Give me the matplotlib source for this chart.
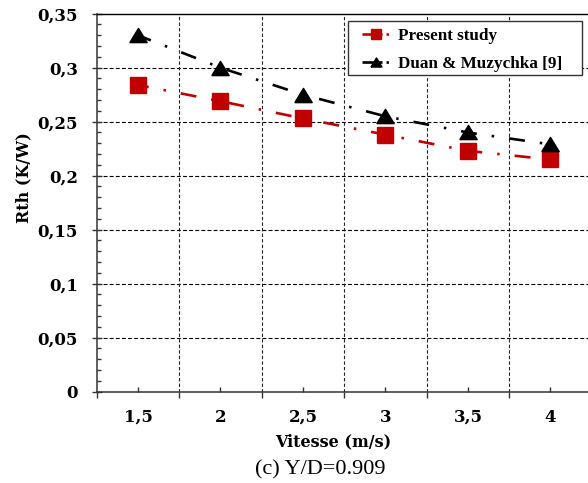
import matplotlib
matplotlib.use("Agg")
import matplotlib.pyplot as plt
from matplotlib.ticker import FixedLocator, MultipleLocator, NullFormatter
from matplotlib.lines import Line2D
from matplotlib.patches import Rectangle

# Thermal resistance vs. air velocity
velocity = [1.5, 2.0, 2.5, 3.0, 3.5, 4.0]
velocity_labels = ["1,5", "2", "2,5", "3", "3,5", "4"]
rth_present = [0.284, 0.269, 0.253, 0.238, 0.223, 0.215]
rth_duan = [0.330, 0.300, 0.275, 0.255, 0.240, 0.229]
y_ticks = [0.0, 0.05, 0.10, 0.15, 0.20, 0.25, 0.30, 0.35]
y_tick_labels = ["0", "0,05", "0,1", "0,15", "0,2", "0,25", "0,3", "0,35"]
series_names = ["Present study", "Duan & Muzychka [9]"]

W, H = 588, 483
DPI = 100
fig = plt.figure(figsize=(W / DPI, H / DPI), dpi=DPI)
fig.patch.set_facecolor("white")

# plot area (right edge runs just past the canvas)
left_px, right_px, top_px, bottom_px = 96.7, 591.7, 13.7, 391.7
ax = fig.add_axes([left_px / W, 1 - bottom_px / H,
                   (right_px - left_px) / W, (bottom_px - top_px) / H])

bold_font = {"family": ["DejaVu Serif"], "weight": "bold"}
red = "#C00000"

# long dash - dot pattern (units of line width)
pattern = (6.05, 5.7, 0.95, 5.7)
tri = [(-1.0, -0.82), (1.0, -0.82), (0.0, 0.82), (-1.0, -0.82)]

ax.plot(velocity, rth_present, color=red, lw=1.9, linestyle=(1.9, pattern),
        marker="s", markersize=11.0, markerfacecolor=red,
        markeredgecolor=red, zorder=4)
ax.plot(velocity, rth_duan, color="black", lw=1.9, linestyle=(0.8, pattern),
        marker=tri, markersize=12.5, markerfacecolor="black",
        markeredgecolor="black", zorder=4)

ax.set_xlim(1.25, 4.25)
ax.set_ylim(0, 0.35)

# category boundaries as major ticks, category centres as labelled minor ticks
boundaries = [v - 0.25 for v in velocity] + [velocity[-1] + 0.25]
ax.xaxis.set_major_locator(FixedLocator(boundaries))
ax.xaxis.set_major_formatter(NullFormatter())
ax.xaxis.set_minor_locator(FixedLocator(velocity))
ax.set_xticklabels(velocity_labels, minor=True, fontdict=bold_font, fontsize=12)
ax.tick_params(axis="x", which="major", direction="out", length=4,
               width=1.0, color="#333333")
ax.tick_params(axis="x", which="minor", direction="in", length=3.6,
               width=1.0, color="#333333", pad=12.5)

ax.set_yticks(y_ticks)
ax.set_yticklabels(y_tick_labels, fontdict=bold_font, fontsize=12)
ax.yaxis.set_minor_locator(MultipleLocator(0.01))
ax.tick_params(axis="y", which="major", direction="inout", length=7.2,
               width=1.0, color="#333333", pad=10)
ax.tick_params(axis="y", which="minor", direction="in", length=3,
               width=1.0, color="#333333")

# dashed grid: horizontal at value steps, vertical at category boundaries
for yv in y_ticks[1:-1]:
    ax.axhline(yv, color="black", lw=0.8, linestyle=(0, (3.5, 2)), zorder=1)
for xv in boundaries[1:-1]:
    ax.axvline(xv, color="#222222", lw=0.8, linestyle=(0, (3, 2)), zorder=1)

for side in ("left", "bottom"):
    ax.spines[side].set_color("#333333")
    ax.spines[side].set_linewidth(1.1)
ax.spines["top"].set_color("black")
ax.spines["top"].set_linewidth(1.0)
ax.spines["right"].set_visible(False)

# legend box
fig.patches.append(Rectangle((348 / W, 1 - 75 / H), (582 - 348) / W, (75 - 21) / H,
                             transform=fig.transFigure, facecolor="white",
                             edgecolor="#333333", linewidth=1.0, zorder=5))

handles = [
    Line2D([], [], color=red, lw=1.9, linestyle=(0, (7.6, 1.5, 0.9, 1.5)), marker="s",
           markersize=7, markerfacecolor=red, markeredgecolor=red),
    Line2D([], [], color="black", lw=1.9, linestyle=(0, (7.6, 1.5, 0.9, 1.5)), marker=tri,
           markersize=8, markerfacecolor="black", markeredgecolor="black"),
]
leg = fig.legend(handles, series_names, loc="center left",
                 bbox_to_anchor=(362 / W, 1 - 50 / H), bbox_transform=fig.transFigure,
                 borderaxespad=0, borderpad=0, frameon=False,
                 handlelength=1.65, handletextpad=0.47, labelspacing=0.75,
                 prop={"family": ["Liberation Serif"], "weight": "bold", "size": 12.3})
leg.set_zorder(6)

fig.text(24 / W, 1 - 177.5 / H, "Rth (K/W)", rotation=90, ha="center",
         va="center", fontdict=bold_font, fontsize=11.5)
fig.text(333 / W, 1 - 442 / H, "Vitesse (m/s)", ha="center", va="center",
         fontdict=bold_font, fontsize=11.5)
fig.text(320 / W, 1 - 470 / H, "(c) Y/D=0.909", ha="center", va="center",
         family=["Liberation Serif"], fontsize=16)

fig.savefig("out.png", dpi=DPI)
